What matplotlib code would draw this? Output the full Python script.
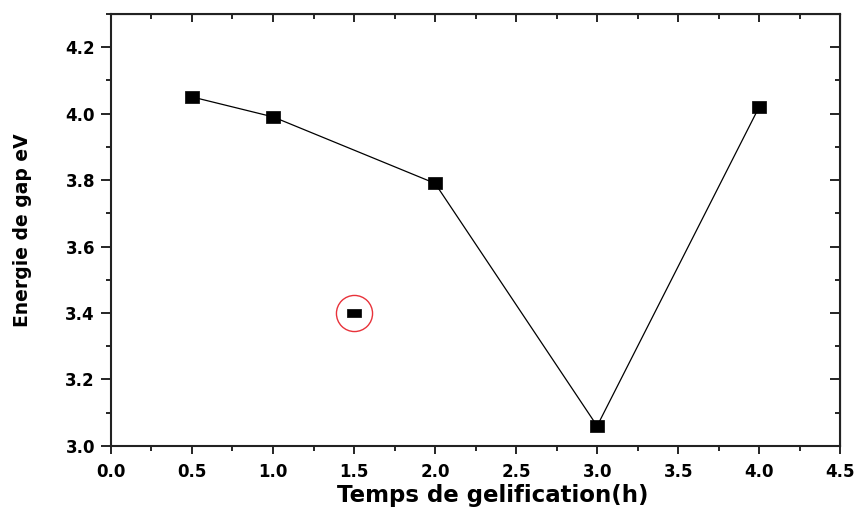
import matplotlib
matplotlib.use("Agg")
import matplotlib.pyplot as plt
from matplotlib.ticker import MultipleLocator

plt.rcParams['font.family'] = ['DejaVu Sans']

# Gap energy vs gelation time
time_h = [0.5, 1.0, 2.0, 3.0, 4.0]
gap_ev = [4.05, 3.99, 3.79, 3.06, 4.02]

# Separate highlighted measurement
outlier_time = [1.5]
outlier_gap = [3.40]

# slightly flattened square marker
rect_marker = [(-1, -0.78), (1, -0.78), (1, 0.78), (-1, 0.78), (-1, -0.78)]
flat_marker = [(-1, -0.6), (1, -0.6), (1, 0.6), (-1, 0.6), (-1, -0.6)]

fig = plt.figure(figsize=(8.6, 5.12), dpi=100)
ax = fig.add_axes([0.129, 0.129, 0.848, 0.844])

ax.plot(time_h, gap_ev, color='black', lw=0.9, marker=rect_marker, markersize=10.5,
        markerfacecolor='black', markeredgecolor='black', markeredgewidth=0.5)
ax.plot(outlier_time, outlier_gap, ls='none', marker=flat_marker, markersize=10,
        color='black', markeredgewidth=0.5)
ax.plot(outlier_time, outlier_gap, ls='none', marker='o', markersize=26,
        markerfacecolor='none', markeredgecolor='#e8323a', markeredgewidth=1.0)

ax.set_xlim(0, 4.5)
ax.set_ylim(3.0, 4.3)
ax.xaxis.set_major_locator(MultipleLocator(0.5))
ax.xaxis.set_minor_locator(MultipleLocator(0.25))
ax.yaxis.set_major_locator(MultipleLocator(0.2))
ax.yaxis.set_minor_locator(MultipleLocator(0.1))
ax.xaxis.set_major_formatter(plt.FormatStrFormatter('%.1f'))
ax.yaxis.set_major_formatter(plt.FormatStrFormatter('%.1f'))

for s in ax.spines.values():
    s.set_linewidth(1.5)
    s.set_color('#222222')

ax.tick_params(which='both', direction='out', top=False, right=False, width=1.2)
ax.tick_params(which='minor', length=3.5)
ax.tick_params(axis='x', which='major', length=6, labelsize=12, pad=6)
ax.tick_params(axis='y', which='major', length=7.5, labelsize=12, pad=4)
for lab in ax.get_xticklabels() + ax.get_yticklabels():
    lab.set_fontweight('bold')

# inward ticks on top and right edges
axt = ax.secondary_xaxis('top')
axt.xaxis.set_major_locator(MultipleLocator(0.5))
axt.xaxis.set_minor_locator(MultipleLocator(0.25))
axt.tick_params(which='both', direction='in', labeltop=False, width=1.2)
axt.tick_params(which='major', length=6)
axt.tick_params(which='minor', length=3.5)
axr = ax.secondary_yaxis('right')
axr.yaxis.set_major_locator(MultipleLocator(0.2))
axr.yaxis.set_minor_locator(MultipleLocator(0.1))
axr.tick_params(which='both', direction='in', labelright=False, width=1.2)
axr.tick_params(which='major', length=7)
axr.tick_params(which='minor', length=3.5)

ax.set_xlabel('Temps de gelification(h)', fontsize=16.5, fontweight='bold')
ax.xaxis.set_label_coords(0.523, -0.088)
ax.set_ylabel('Energie de gap eV', fontsize=13.5, fontweight='bold', labelpad=24)

fig.savefig('out.png', dpi=100)
